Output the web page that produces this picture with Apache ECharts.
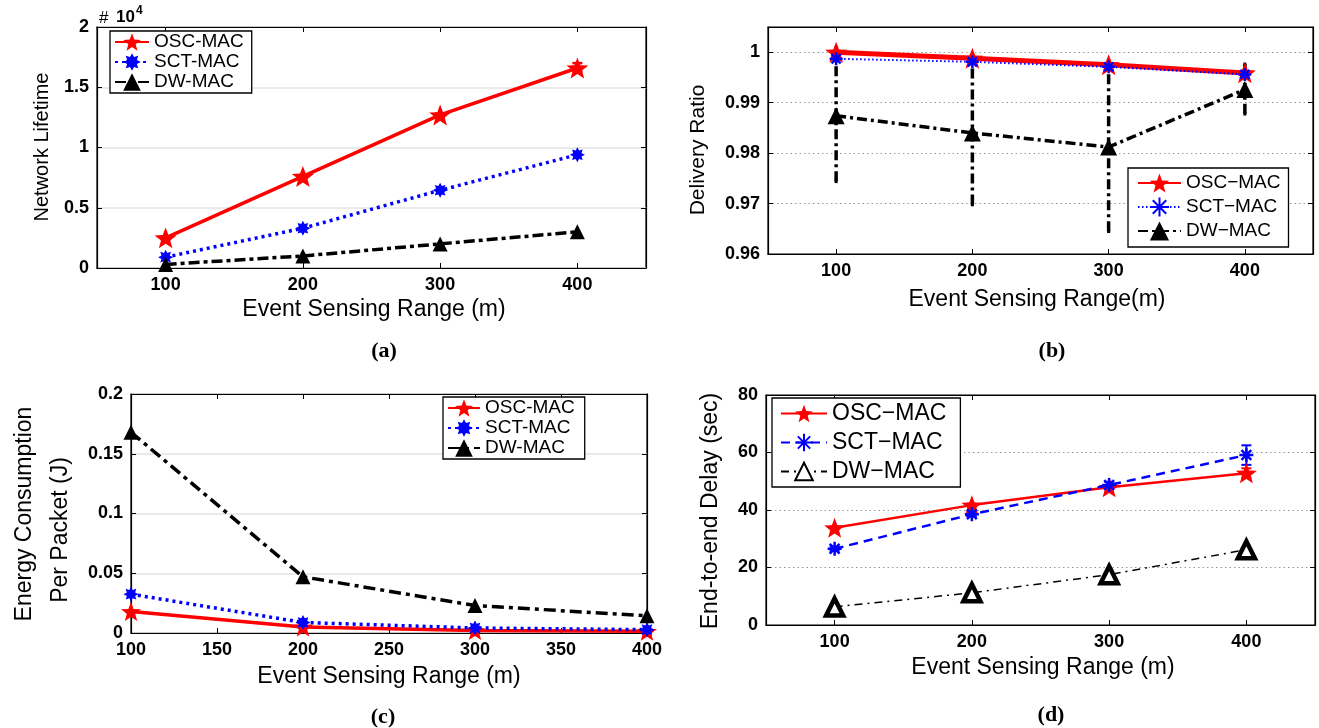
<!DOCTYPE html>
<html><head><meta charset="utf-8">
<script src="https://cdn.jsdelivr.net/npm/echarts@6/dist/echarts.min.js"></script>
<style>
html,body{margin:0;padding:0;background:#fff;width:1319px;height:728px;overflow:hidden}
.c{position:absolute;left:0;top:0;width:1319px;height:728px}
</style></head>
<body>
<div id="pa" class="c"></div><div id="pb" class="c"></div><div id="pc" class="c"></div><div id="pd" class="c"></div>
<script>
// ---------------- data ----------------
const ranges = [100, 200, 300, 400];
const xTicksMain = [100, 200, 300, 400];
const xTicksEnergy = [100, 150, 200, 250, 300, 350, 400];

// (a) Network lifetime (x 10^4)
const lifetimeOSC = [0.25, 0.76, 1.27, 1.66];
const lifetimeSCT = [0.09, 0.33, 0.645, 0.94];
const lifetimeDW  = [0.03, 0.10, 0.20, 0.30];
const lifetimeOSCLow  = [0.24, 0.75, 1.26, 1.63];
const lifetimeOSCHigh = [0.26, 0.77, 1.28, 1.70];

// (b) Delivery ratio
const deliveryOSC = [1.0, 0.9988, 0.9975, 0.9959];
const deliverySCT = [0.9987, 0.9981, 0.9971, 0.9956];
const deliveryDW  = [0.9874, 0.9840, 0.9812, 0.9926];
const deliveryDWLow  = [0.9744, 0.9698, 0.9645, 0.9878];
const deliveryDWHigh = [1.0009, 0.9995, 0.9982, 0.9976];

// (c) Energy consumption per packet (J)
const energyOSC = [0.018, 0.005, 0.002, 0.0015];
const energySCT = [0.0325, 0.0088, 0.0042, 0.0028];
const energyDW  = [0.168, 0.047, 0.023, 0.0144];

// (d) End-to-end delay (sec)
const delayOSC = [33.8, 41.7, 47.9, 52.8];
const delaySCT = [26.5, 38.5, 48.7, 59.1];
const delayDW  = [6.3, 11.2, 17.5, 26.2];
const delayOSCLow  = [33.3, 41.2, 47.3, 51.2];
const delayOSCHigh = [34.3, 42.2, 48.5, 54.5];
const delaySCTLow  = [25.8, 37.8, 47.6, 55.7];
const delaySCTHigh = [27.2, 39.2, 49.8, 62.5];

const namesA = ['OSC-MAC', 'SCT-MAC', 'DW-MAC'];
const namesB = ['OSC\u2212MAC', 'SCT\u2212MAC', 'DW\u2212MAC'];

// ---------------- helpers ----------------
const FONT = "'Liberation Sans', Arial, Helvetica, sans-serif";
const SERIF = "'Liberation Serif', 'Times New Roman', serif";

function starPath(n, inner) {
  let d = '';
  for (let i = 0; i < 2 * n; i++) {
    const r = i % 2 ? inner : 1;
    const a = -Math.PI / 2 + i * Math.PI / n;
    d += (i ? 'L' : 'M') + (r * Math.cos(a) * 10).toFixed(2) + ',' + (r * Math.sin(a) * 10).toFixed(2);
  }
  return 'path://' + d + 'Z';
}
const STAR = starPath(5, 0.42);
const BLOB = starPath(8, 0.6);
const ASTER = 'path://M0,-10L0,10M-10,0L10,0M-7,-7L7,7M-7,7L7,-7';

function pts(vals) { return ranges.map((x, i) => [x, vals[i]]); }
function errPts(lo, hi) { return ranges.map((x, i) => [x, lo[i], hi[i]]); }

function axes(g, xMin, xMax, xTicks, yMin, yMax, yInt, split, hideMax) {
  const lbl = { color: '#000', fontWeight: 'bold', fontSize: 18, fontFamily: FONT, margin: 8 };
  const tick = { show: true, inside: true, length: 5, lineStyle: { color: '#000', width: 1 } };
  const line = { show: true, onZero: false, lineStyle: { color: '#000', width: 1.2 } };
  return {
    grid: Object.assign({ show: true, borderColor: '#000', borderWidth: 1.2, backgroundColor: '#fff', containLabel: false }, g),
    xAxis: [
      { type: 'value', min: xMin, max: xMax, position: 'bottom', axisLine: line,
        axisTick: Object.assign({ customValues: xTicks }, tick),
        axisLabel: Object.assign({ customValues: xTicks }, lbl), splitLine: { show: false } },
      { type: 'value', min: xMin, max: xMax, position: 'top', axisLine: line,
        axisTick: Object.assign({ customValues: xTicks }, tick),
        axisLabel: { show: false }, splitLine: { show: false } }
    ],
    yAxis: [
      { type: 'value', min: yMin, max: yMax, interval: yInt, axisLine: line, axisTick: tick,
        axisLabel: Object.assign({ showMaxLabel: !hideMax }, lbl), splitLine: { show: true, lineStyle: split } },
      { type: 'value', min: yMin, max: yMax, interval: yInt, position: 'right', axisLine: line, axisTick: tick,
        axisLabel: { show: false }, splitLine: { show: false } }
    ]
  };
}

function lineS(name, vals, color, width, dash, symbol, size, item, z) {
  return {
    type: 'line', name: name, data: pts(vals), xAxisIndex: 0, yAxisIndex: 0,
    symbol: symbol, symbolSize: size, symbolKeepAspect: true, showSymbol: true,
    lineStyle: { color: color, width: width, type: dash },
    itemStyle: Object.assign({ color: color, opacity: 1 }, item || {}),
    z: z || 2, animation: false, silent: true
  };
}

function errS(lo, hi, color, width, dash, capW) {
  return {
    type: 'custom', name: 'err', xAxisIndex: 0, yAxisIndex: 0, data: errPts(lo, hi),
    encode: { x: 0, y: [1, 2] }, z: 1, silent: true, animation: false,
    renderItem: function (params, api) {
      const x = api.value(0), a = api.coord([x, api.value(1)]), b = api.coord([x, api.value(2)]);
      return { type: 'group', children: [
        { type: 'line', shape: { x1: a[0], y1: a[1], x2: b[0], y2: b[1] }, style: { stroke: color, lineWidth: width, lineDash: dash } },
        { type: 'line', shape: { x1: a[0] - capW, y1: a[1], x2: a[0] + capW, y2: a[1] }, style: { stroke: color, lineWidth: width } },
        { type: 'line', shape: { x1: b[0] - capW, y1: b[1], x2: b[0] + capW, y2: b[1] }, style: { stroke: color, lineWidth: width } }
      ] };
    }
  };
}

function legend(names, left, top, itemWidth, itemHeight, gap, pad, fs) {
  return {
    data: names, orient: 'vertical', left: left, top: top, itemWidth: itemWidth, itemHeight: itemHeight,
    itemGap: gap, padding: pad, borderColor: '#000', borderWidth: 1.3, backgroundColor: '#fff',
    symbolKeepAspect: true,
    selectedMode: false, textStyle: { fontSize: fs, fontFamily: FONT, color: '#000', lineHeight: itemHeight }
  };
}

function txt(t, x, y, font, rot) {
  return { type: 'text', x: x, y: y, rotation: rot || 0, z: 100,
    style: { text: t, font: font, fill: '#000', textAlign: 'center', textVerticalAlign: 'middle', align: 'center', verticalAlign: 'middle' } };
}

// ---------------- (a) ----------------
(function () {
  const ax = axes({ left: 97, top: 27, width: 549, height: 241 }, 50, 450, xTicksMain, 0, 2, 0.5,
    { color: '#e3e3e3', width: 1.5, type: 'solid' }, false);
  const ch = echarts.init(document.getElementById('pa'), null, { renderer: 'canvas' });
  ch.setOption(Object.assign(ax, {
    animation: false,
    legend: legend(namesA, 110, 31, 34, 22, -2, [0, 8, 0, 4], 19),
    series: [
      errS(lifetimeOSCLow, lifetimeOSCHigh, '#ff0000', 2.5, null, 5),
      lineS(namesA[0], lifetimeOSC, '#ff0000', 3.5, 'solid', STAR, 22, null, 3),
      lineS(namesA[1], lifetimeSCT, '#0000ff', 3.5, [3, 4], BLOB, 15, null, 4),
      lineS(namesA[2], lifetimeDW, '#000000', 3.5, [11, 4, 4, 4], 'triangle', 15, null, 5)
    ],
    graphic: [
      txt('Network Lifetime', 42, 147, '20px ' + FONT, Math.PI / 2),
      txt('Event Sensing Range (m)', 374, 310, '23px ' + FONT),
      txt('(a)', 384, 351, 'bold 22px ' + SERIF),
      { type: 'text', x: 99, y: 10, style: { text: '#', font: '17px ' + FONT, fill: '#000' } },
      { type: 'text', x: 116, y: 9, style: { text: '10', font: 'bold 17px ' + FONT, fill: '#000' } },
      { type: 'text', x: 136, y: 5, style: { text: '4', font: 'bold 12px ' + FONT, fill: '#000' } }
    ]
  }));
})();

// ---------------- (b) ----------------
(function () {
  const ax = axes({ left: 768, top: 27, width: 545, height: 227 }, 50, 450, xTicksMain, 0.96, 1.005, 0.01,
    { color: '#999', width: 1, type: [1.5, 3] }, true);
  const ch = echarts.init(document.getElementById('pb'), null, { renderer: 'canvas' });
  ch.setOption(Object.assign(ax, {
    animation: false,
    legend: legend(namesB, 1128, 168, 43, 24, 0, [3, 8, 4, 9], 19),
    series: [
      errS(deliveryDWLow, deliveryDWHigh, '#000000', 3.5, [10, 4, 3, 4], 1.5),
      lineS(namesB[0], deliveryOSC, '#ff0000', 5, 'solid', STAR, 22, null, 3),
      lineS(namesB[1], deliverySCT, '#0000ff', 2, [1.5, 2.5], ASTER, 13, { borderColor: '#0000ff', borderWidth: 2.5 }, 4),
      lineS(namesB[2], deliveryDW, '#000000', 3.5, [10, 4, 3, 4], 'triangle', 17, null, 5)
    ],
    graphic: [
      txt('Delivery Ratio', 698, 150, '21px ' + FONT, Math.PI / 2),
      txt('Event Sensing Range(m)', 1037, 300, '23px ' + FONT),
      txt('(b)', 1052, 351, 'bold 22px ' + SERIF)
    ]
  }));
})();

// ---------------- (c) ----------------
(function () {
  const ax = axes({ left: 131, top: 394, width: 516, height: 239 }, 100, 400, xTicksEnergy, 0, 0.2, 0.05,
    { color: '#e3e3e3', width: 1.5, type: 'solid' }, false);
  const ch = echarts.init(document.getElementById('pc'), null, { renderer: 'canvas' });
  ch.setOption(Object.assign(ax, {
    animation: false,
    legend: legend(namesA, 443, 397, 32, 22, -2, [0, 10, 0, 4], 19),
    series: [
      lineS(namesA[0], energyOSC, '#ff0000', 3.5, 'solid', STAR, 20, null, 3),
      lineS(namesA[1], energySCT, '#0000ff', 3.5, [3, 4], BLOB, 15, null, 4),
      lineS(namesA[2], energyDW, '#000000', 3.5, [12, 5, 4, 5], 'triangle', 15, null, 5)
    ],
    graphic: [
      txt('Energy Consumption', 25, 514, '23px ' + FONT, Math.PI / 2),
      txt('Per Packet (J)', 61, 530, '23px ' + FONT, Math.PI / 2),
      txt('Event Sensing Range (m)', 389, 677, '23px ' + FONT),
      txt('(c)', 383, 717, 'bold 22px ' + SERIF)
    ]
  }));
})();

// ---------------- (d) ----------------
(function () {
  const ax = axes({ left: 766, top: 395, width: 549, height: 230 }, 50, 450, xTicksMain, 0, 80, 20,
    { color: '#999', width: 1, type: [1.5, 3] }, false);
  const ch = echarts.init(document.getElementById('pd'), null, { renderer: 'canvas' });
  ch.setOption(Object.assign(ax, {
    animation: false,
    legend: legend(namesB, 772, 398, 46, 22, 6, [4, 14, 4, 8], 23),
    series: [
      errS(delayOSCLow, delayOSCHigh, '#ff0000', 2, null, 5),
      errS(delaySCTLow, delaySCTHigh, '#0000ff', 2, null, 5),
      lineS(namesB[0], delayOSC, '#ff0000', 2.5, 'solid', STAR, 21, null, 3),
      lineS(namesB[1], delaySCT, '#0000ff', 2.5, [9, 6], ASTER, 14, { borderColor: '#0000ff', borderWidth: 2.5 }, 4),
      lineS(namesB[2], delayDW, '#000000', 1.5, [8, 5, 2, 5], 'triangle', 17, { color: '#ffffff', borderColor: '#000', borderWidth: 4.5 }, 5)
    ],
    graphic: [
      txt('End-to-end Delay (sec)', 711, 511, '23px ' + FONT, Math.PI / 2),
      txt('Event Sensing Range (m)', 1043, 668, '23px ' + FONT),
      txt('(d)', 1051, 715, 'bold 22px ' + SERIF)
    ]
  }));
})();
</script>
</body></html>
